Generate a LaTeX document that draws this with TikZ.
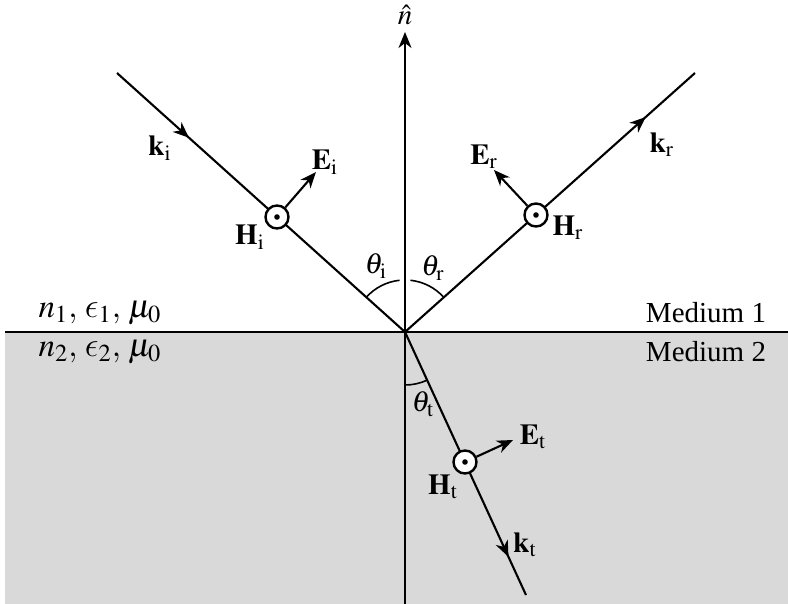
\documentclass[tikz,border=0pt]{standalone}
\usepackage{mathptmx}
\usepackage{fontspec}
\setmainfont{Liberation Serif}
\DeclareSymbolFont{cmletters}{OML}{cmm}{m}{it}
\DeclareMathSymbol{\lunateps}{\mathord}{cmletters}{"0F}
\usetikzlibrary{arrows.meta,decorations.markings}
\definecolor{medtwo}{RGB}{217,217,217}
\begin{document}
\begin{tikzpicture}[x=0.5pt,y=-0.5pt,line width=1.05pt,
  tip/.style={-{Stealth[length=8pt,width=6.5pt,inset=2.5pt]}},
  hdot/.style={circle,draw,fill=white,minimum size=11.5pt,inner sep=0pt,line width=1.2pt,
    path picture={\fill[black] (path picture bounding box.center) circle (1.4pt);}},
  lbl/.style={inner sep=0pt,font=\fontsize{14.5}{17}\selectfont},
  medlbl/.style={inner sep=0pt,font=\fontsize{16.5}{19}\selectfont},
  midarrow/.style={postaction={decorate},decoration={markings,
    mark=at position #1 with {\arrow{Stealth[length=8pt,width=6.5pt,inset=2.5pt]}}}}]
\useasboundingbox (0,0) rectangle (788,604);
\fill[medtwo] (5,332) rectangle (788,604);
\coordinate (O) at (405,332);
\coordinate (istart) at (117,73);
\coordinate (rend) at (695,73);
\coordinate (tend) at (526,595);
\coordinate (nbot) at (405,604);
\coordinate (ntop) at (405,32);
\coordinate (ifl) at (5,332);
\coordinate (ifr) at (788,332);
\draw (ifl) -- (ifr);
\draw[tip] (nbot) -- (ntop);
\node[lbl] (nhat) at (405,15) {$\hat{n}$};
\draw[midarrow=0.25] (istart) -- (O);
\draw[midarrow=0.83] (O) -- (rend);
\draw[midarrow=0.855] (O) -- (tend);
% angle arcs
\draw[line width=0.8pt] (O) ++(138:26pt) arc (138:96:26pt);
\draw[line width=0.8pt] (O) ++(84:26pt) arc (84:41.8:26pt);
\draw[line width=0.8pt] (O) ++(270:26.5pt) arc (270:294.7:26.5pt);
\node[lbl] (thi) at (376,266) {$\theta_{\mathrm{i}}$};
\node[lbl] (thr) at (433,268) {$\theta_{\mathrm{r}}$};
\node[lbl] (tht) at (423,404) {$\theta_{\mathrm{t}}$};
% field markers
\node[hdot] (Hi) at (277,217) {};
\node[hdot] (Hr) at (536,215) {};
\node[hdot] (Ht) at (465,462) {};
\coordinate (Eitip) at (316,172);
\coordinate (Ertip) at (494,170);
\coordinate (Ettip) at (513,440);
\draw[tip] (Hi) -- (Eitip);
\draw[tip] (Hr) -- (Ertip);
\draw[tip] (Ht) -- (Ettip);
% labels
\node[lbl] (ki) at (160,148) {$\mathbf{k}_{\mathrm{i}}$};
\node[lbl] (Ei) at (325,162) {$\mathbf{E}_{\mathrm{i}}$};
\node[lbl] (Hil) at (250,237) {$\mathbf{H}_{\mathrm{i}}$};
\node[lbl] (Er) at (484,157) {$\mathbf{E}_{\mathrm{r}}$};
\node[lbl] (kr) at (662,145) {$\mathbf{k}_{\mathrm{r}}$};
\node[lbl] (Hrl) at (568,228) {$\mathbf{H}_{\mathrm{r}}$};
\node[lbl] (Et) at (533,437) {$\mathbf{E}_{\mathrm{t}}$};
\node[lbl] (Htl) at (443,487) {$\mathbf{H}_{\mathrm{t}}$};
\node[lbl] (kt) at (525,545) {$\mathbf{k}_{\mathrm{t}}$};
\node[medlbl] (m1p) at (100,313) {$n_1,\,\lunateps_1,\,\mu_0$};
\node[medlbl] (m2p) at (100,352) {$n_2,\,\lunateps_2,\,\mu_0$};
\node[lbl] (m1) at (706,313) {Medium 1};
\node[lbl] (m2) at (706,352) {Medium 2};
\end{tikzpicture}
\end{document}
